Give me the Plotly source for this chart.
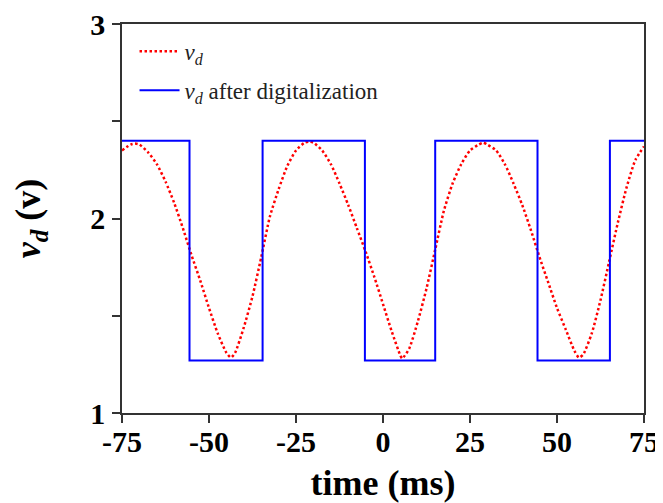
import plotly.graph_objects as go

# Analog signal v_d, time in ms
t_ms = [-75, -72.5, -71.3, -70, -67.5, -65, -62.5, -60, -57.5, -55, -52.5, -50, -47.5, -45, -43.7, -42.5,
        -40, -37.5, -35, -32.5, -30, -27.5, -25, -22.5, -21.3, -20, -17.5, -15, -12.5, -10, -7.5,
        -5, -2.5, 0, 2.5, 5, 5.5, 7.5, 10, 12.5, 15, 17.5, 20, 22.5, 25, 27.5, 28.8, 30, 32.5, 35,
        37.5, 40, 42.5, 45, 47.5, 50, 52.5, 55, 56.3, 57.5, 60, 62.5, 65, 67.5, 70, 72.5, 75]
vd = [2.35, 2.38, 2.385, 2.38, 2.34, 2.28, 2.19, 2.08, 1.95, 1.81, 1.68, 1.54, 1.41, 1.31, 1.285, 1.31,
      1.44, 1.60, 1.80, 2.01, 2.15, 2.27, 2.35, 2.39, 2.395, 2.39, 2.35, 2.28, 2.18, 2.07, 1.95,
      1.83, 1.70, 1.56, 1.42, 1.295, 1.28, 1.33, 1.47, 1.64, 1.84, 2.04, 2.18, 2.28, 2.35, 2.38, 2.39,
      2.38, 2.35, 2.28, 2.18, 2.07, 1.94, 1.80, 1.67, 1.54, 1.43, 1.32, 1.285, 1.30, 1.41, 1.58,
      1.78, 1.98, 2.16, 2.30, 2.37]

# Digitalized signal: switching times and levels
t_switch = [-75, -55.6, -34.6, -5.2, 15.0, 44.4, 65.2, 75]
v_digital = [2.40, 1.27, 2.40, 1.27, 2.40, 1.27, 2.40, 2.40]

x_ticks = [-75, -50, -25, 0, 25, 50, 75]
x_ticktext = ["-75", "-50", "-25", "0", "25", "50", "75"]
y_ticks = [1, 1.5, 2, 2.5, 3]
y_ticktext = ["1", "", "2", "", "3"]

FONT = "Liberation Serif"
AX = "#333333"

fig = go.Figure()
fig.add_trace(go.Scatter(
    x=t_ms, y=vd, mode="lines",
    line=dict(color="#ff0000", width=2.5, dash="2.5px,2.5px", shape="spline", smoothing=0.6),
    name="<i>v</i><sub><i>d</i></sub>", legendgroup="a"))
fig.add_trace(go.Scatter(
    x=t_switch, y=v_digital, mode="lines", line=dict(color="#0000ff", width=2, shape="hv"),
    name="<i>v</i><sub><i>d</i></sub> after digitalization", legendgroup="b"))

# page body has an 8px default margin, so the figure is sized to fit the 663x503 window
fig.update_layout(
    width=655, height=495,
    margin=dict(l=114, r=19, t=16, b=90),
    plot_bgcolor="white", paper_bgcolor="white",
    font=dict(family=FONT, color="black"),
    showlegend=True,
    legend=dict(x=0.024, y=0.985, xanchor="left", yanchor="top",
                bgcolor="rgba(0,0,0,0)", font=dict(family=FONT, size=23, color="#222"),
                itemwidth=40, tracegroupgap=6),
    xaxis=dict(range=[-75, 75], tickvals=x_ticks, ticktext=x_ticktext, automargin=False,
               showgrid=False, zeroline=False, showline=True, mirror=True,
               linecolor=AX, linewidth=1.5, ticks="outside", ticklen=8, tickwidth=1.5, tickcolor=AX,
               ticklabelstandoff=-7, ticklabeloverflow="allow",
               tickfont=dict(family=FONT, size=30, color="black", weight="bold"),
               title=dict(text="<b>time (ms)</b>", font=dict(family=FONT, size=36, color="black"), standoff=14)),
    yaxis=dict(range=[1, 3], tickvals=y_ticks, ticktext=y_ticktext, automargin=False,
               showgrid=False, zeroline=False, showline=True, mirror=True,
               linecolor=AX, linewidth=1.5, ticks="outside", ticklen=8, tickwidth=1.5, tickcolor=AX,
               ticklabelstandoff=1, ticklabeloverflow="allow",
               tickfont=dict(family=FONT, size=30, color="black", weight="bold"),
               title=dict(text="<b><i>v</i><sub><i>d</i></sub> (v)</b>",
                          font=dict(family=FONT, size=36, color="black"), standoff=42)),
)

fig.write_html("out.html")
